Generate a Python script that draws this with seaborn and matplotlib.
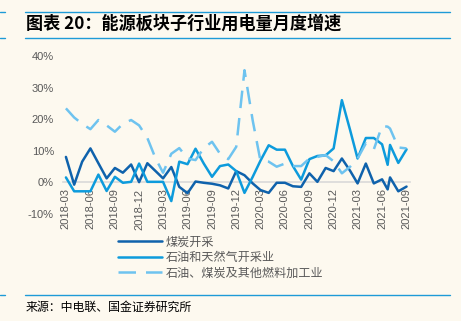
import numpy as np
import pandas as pd
import matplotlib
matplotlib.use("Agg")
import matplotlib.pyplot as plt
from matplotlib.lines import Line2D
import seaborn as sns

# ---------------- data ----------------
month_dates = list(pd.date_range("2018-03-01", "2021-09-01", freq="MS"))
extra_date = pd.Timestamp("2021-06-22")  # additional observation shown between 2021-06 and 2021-07
dates = sorted(month_dates + [extra_date])

coal_mining = [8.0, -0.8, 6.5, 10.7, 6.0, 1.2, 4.5, 3.0, 5.6, 0.0,
               6.0, 3.5, 1.2, 4.8, -1.5, -3.5, 0.2, -0.2, -0.5, -1.0,
               -2.0, 3.5, 2.2, -0.4, -2.5, -3.4, -0.2, -0.2, -1.3, -1.5,
               2.8, 0.1, 4.5, 3.5, 7.5, 3.6, -0.4, 5.9, -0.4, 0.9,
               -2.3, 1.5, -2.9, -1.4]
oil_gas = [1.5, -2.9, -2.9, -2.9, 2.4, -2.8, 1.7, -0.2, 0.1, 5.9,
           0.1, 0.1, 0.1, -6.0, 6.5, 5.7, 10.6, 5.9, 1.7, 5.1,
           5.6, 3.5, -3.4, 1.7, 6.8, 11.7, 10.3, 10.3, 5.1, 0.8,
           7.3, 8.3, 8.5, 10.7, 26.0, 16.5, 7.5, 14.0, 14.0, 12.0,
           5.5, 11.8, 6.1, 10.4]
fuel_processing = [23.4, 20.5, 18.5, 16.8, 19.7, 18.0, 16.0, 18.5, 19.7, 18.0,
                   14.0, 7.5, 3.0, 9.0, 10.8, 7.5, 7.0, 10.8, 12.8, 9.0,
                   7.3, 11.2, 35.5, 19.5, 6.8, 6.5, 4.9, 5.9, 5.1, 5.1,
                   7.5, 8.0, 8.6, 6.6, 2.8, 4.9, 7.5, 12.3, 10.4, 17.8,
                   17.6, 17.0, 11.0, 10.7]

series_names = ["煤炭开采", "石油和天然气开采业", "石油、煤炭及其他燃料加工业"]
series_values = [coal_mining, oil_gas, fuel_processing]

tick_dates = list(pd.date_range("2018-03-01", "2021-09-01", freq="3MS"))
tick_labels = [d.strftime("%Y-%m") for d in tick_dates]
y_ticks = [-10, 0, 10, 20, 30, 40]
y_tick_labels = ["-10%", "0%", "10%", "20%", "30%", "40%"]

title_text = "图表 20：能源板块子行业用电量月度增速"
source_text = "来源：中电联、国金证券研究所"

# ---------------- style ----------------
sns.set_theme(style="white")
plt.rcParams["font.family"] = ["Noto Sans CJK SC", "DejaVu Sans"]
plt.rcParams["axes.unicode_minus"] = False

bg = "#FDF9EF"
colors = ["#0F62AC", "#0D9BDC", "#6EC3EF"]
accent = "#1E9BD7"
gray_text = "#595959"

df = pd.concat([
    pd.DataFrame({"date": dates, "value": vals, "series": name})
    for name, vals in zip(series_names, series_values)
], ignore_index=True)

fig = plt.figure(figsize=(4.61, 3.21), dpi=100, facecolor=bg)
ax = fig.add_axes([63 / 461, 1 - 213.7 / 321, (410 - 63) / 461, (213.7 - 56) / 321])
ax.set_facecolor(bg)

sns.lineplot(data=df, x="date", y="value", hue="series", style="series",
             hue_order=series_names, style_order=series_names,
             palette=dict(zip(series_names, colors)),
             dashes={series_names[0]: "", series_names[1]: "", series_names[2]: (7, 4)},
             linewidth=1.8, ax=ax, legend=True)

handles, labels = ax.get_legend_handles_labels()
ax.get_legend().remove()

ax.set_ylim(-10, 40)
ax.set_xlim(pd.Timestamp("2018-02-18"), pd.Timestamp("2021-09-14"))
ax.set_yticks(y_ticks)
ax.set_yticklabels(y_tick_labels)
ax.tick_params(axis="y", length=0, pad=6.5, labelsize=8, colors=gray_text)
ax.set_xlabel("")
ax.set_ylabel("")
for s in ["top", "right", "left"]:
    ax.spines[s].set_visible(False)
ax.spines["bottom"].set_position(("data", 0))
ax.spines["bottom"].set_color("#D9D9D9")
ax.spines["bottom"].set_linewidth(1.2)
ax.spines["bottom"].set_zorder(0.5)
ax.set_xticks(tick_dates)
ax.set_xticklabels(tick_labels)
ax.tick_params(axis="x", length=3, width=0.8, color="#D9D9D9", direction="in",
               pad=4.5, labelsize=8, labelcolor=gray_text, labelrotation=90)
for lab in ax.get_xticklabels() + ax.get_yticklabels():
    lab.set_fontfamily(["Liberation Sans", "DejaVu Sans"])
ax.grid(False)

fig.legend(handles, labels, loc="upper left",
           bbox_to_anchor=(118 / 461, 1 - 235.5 / 321),
           frameon=False, fontsize=8.7, labelcolor=gray_text,
           handlelength=3.6, handletextpad=0.35, labelspacing=0.2,
           borderpad=0, borderaxespad=0)

# decorations: title rules and source rule
for y in [11.7, 37.7, 295]:
    fig.add_artist(Line2D([25 / 461, 450 / 461], [1 - y / 321] * 2, color=accent, lw=1.0))
    fig.add_artist(Line2D([0, 5 / 461], [1 - y / 321] * 2, color=accent, lw=1.0))

fig.text(26 / 461, 1 - 29 / 321, title_text, fontsize=12.3, fontweight="bold",
         color="black", va="baseline", ha="left")
fig.text(26 / 461, 1 - 311 / 321, source_text, fontsize=8.6, color="black",
         va="baseline", ha="left")

fig.savefig("out.png", dpi=100, facecolor=bg)
